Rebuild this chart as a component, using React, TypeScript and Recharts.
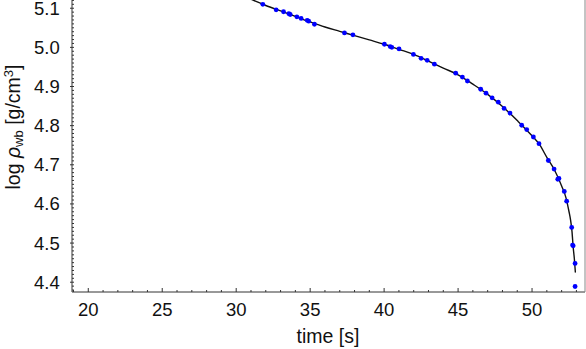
import React from "react";
import {
  ComposedChart,
  Line,
  Scatter,
  XAxis,
  YAxis,
} from "recharts";

// ── Data ────────────────────────────────────────────────────────────────────

// measured points: time [s] and log rho_wb
const pointTimes = [
  31.8, 32.7, 33.2, 33.56, 33.65, 34.1, 34.39, 34.8, 34.9, 35.29,
  37.32, 37.89, 40.02, 40.41, 40.52, 41.01, 41.98, 42.5, 42.91, 43.4,
  44.84, 45.29, 45.63, 46.53, 46.89, 47.3, 47.72, 48.11, 48.51, 49.3,
  49.64, 50.09, 50.47, 51.1, 51.49, 51.74, 51.82, 52.18, 52.34, 52.68,
  52.74, 52.78, 52.91, 52.91,
];
const pointValues = [
  5.11, 5.096, 5.091, 5.086, 5.084, 5.078, 5.074, 5.069, 5.067, 5.059,
  5.037, 5.032, 5.008, 5.002, 5.0, 4.996, 4.982, 4.972, 4.967, 4.957,
  4.934, 4.924, 4.914, 4.893, 4.883, 4.871, 4.86, 4.844, 4.832, 4.801,
  4.79, 4.771, 4.754, 4.711, 4.689, 4.663, 4.665, 4.632, 4.607, 4.54,
  4.495, 4.493, 4.448, 4.389,
];

// fitted curve
const curveTimes = [
  29.5, 31, 32, 33, 34, 35, 36, 37, 38, 39, 40, 41, 42, 43, 44, 45, 46,
  47, 48, 49, 50, 50.5, 51, 51.5, 52, 52.3, 52.5, 52.6, 52.7, 52.78,
  52.86, 52.93,
];
const curveValues = [
  5.148, 5.123, 5.107, 5.093, 5.079, 5.065, 5.052, 5.041, 5.03, 5.019,
  5.008, 4.995, 4.982, 4.965, 4.947, 4.93, 4.906, 4.88, 4.849, 4.813,
  4.774, 4.752, 4.719, 4.688, 4.646, 4.615, 4.58, 4.56, 4.53, 4.49,
  4.46, 4.425,
];

const xMajorTicks = [20, 25, 30, 35, 40, 45, 50];
const yMajorTicks = [4.4, 4.5, 4.6, 4.7, 4.8, 4.9, 5.0, 5.1];

const X_DOMAIN: [number, number] = [18.9, 53.58];
const Y_DOMAIN: [number, number] = [4.375, 5.121];

// minor ticks: every second / every 0.01
const xMinorTicks: number[] = [];
for (let t = 19; t <= 53; t++) xMinorTicks.push(t);
const yMinorTicks: number[] = [];
for (let i = 438; i <= 512; i++) yMinorTicks.push(i / 100);

const points = pointTimes.map((t, i) => ({ t, y: pointValues[i] }));
const curve = curveTimes.map((t, i) => ({ t, y: curveValues[i] }));

const FONT = "'Liberation Sans', Arial, sans-serif";
const AXIS_COLOR = "#333";
const POINT_COLOR = "#0000ff";

const isMajor = (v: number, list: number[]) =>
  list.some((m) => Math.abs(m - v) < 1e-6);

// ── Custom ticks ────────────────────────────────────────────────────────────

function XTick(props: any) {
  const { x, y, payload } = props;
  const major = isMajor(payload.value, xMajorTicks);
  return (
    <g>
      <line
        x1={x}
        x2={x}
        y1={y}
        y2={y - (major ? 4 : 2)}
        stroke={AXIS_COLOR}
        strokeWidth={1}
      />
      {major && (
        <text
          x={x}
          y={y + 24}
          textAnchor="middle"
          fontFamily={FONT}
          fontSize={18.5}
          fill="#111"
        >
          {payload.value}
        </text>
      )}
    </g>
  );
}

function YTick(props: any) {
  const { x, y, payload } = props;
  const major = isMajor(payload.value, yMajorTicks);
  return (
    <g>
      <line
        x1={major ? x - 2 : x}
        x2={x + 2}
        y1={y}
        y2={y}
        stroke={AXIS_COLOR}
        strokeWidth={1}
      />
      {major && (
        <text
          x={x - 38}
          y={y + 6.5}
          textAnchor="start"
          fontFamily={FONT}
          fontSize={18.5}
          fill="#111"
        >
          {payload.value.toFixed(1)}
        </text>
      )}
    </g>
  );
}

function YTitle() {
  return (
    <text
      transform="translate(20, 127) rotate(-90)"
      textAnchor="middle"
      fontFamily={FONT}
      fontSize={19.5}
      fill="#111"
    >
      <tspan>log </tspan>
      <tspan fontStyle="italic">ρ</tspan>
      <tspan fontSize={13} dy={3}>wb</tspan>
      <tspan dy={-3}> [g/cm</tspan>
      <tspan fontSize={13} dy={-7}>3</tspan>
      <tspan dy={7}>]</tspan>
    </text>
  );
}

function XTitle() {
  return (
    <text
      x={328}
      y={343}
      textAnchor="middle"
      fontFamily={FONT}
      fontSize={19.5}
      fill="#111"
    >
      time [s]
    </text>
  );
}

// ── Chart ───────────────────────────────────────────────────────────────────

export default function App() {
  return (
    <div style={{ position: "absolute", left: 0, top: 0, background: "#fff" }}>
      <ComposedChart
        width={586}
        height={349}
        margin={{ top: 0, right: 0, left: 0, bottom: 0 }}
      >
        <XAxis
          dataKey="t"
          type="number"
          domain={X_DOMAIN}
          allowDataOverflow
          ticks={xMinorTicks}
          interval={0}
          tick={<XTick />}
          tickLine={false}
          tickSize={0}
          tickMargin={0}
          height={57}
          axisLine={{ stroke: AXIS_COLOR }}
          label={{ content: () => <XTitle /> }}
        />
        <YAxis
          dataKey="y"
          type="number"
          domain={Y_DOMAIN}
          allowDataOverflow
          ticks={yMinorTicks}
          interval={0}
          tick={<YTick />}
          tickLine={false}
          tickSize={0}
          tickMargin={0}
          width={72}
          axisLine={{ stroke: AXIS_COLOR }}
          label={{ content: () => <YTitle /> }}
        />
        <YAxis
          yAxisId="frame"
          orientation="right"
          type="number"
          domain={Y_DOMAIN}
          tick={false}
          tickLine={false}
          width={1}
          axisLine={{ stroke: "#888" }}
        />
        <Line
          data={curve}
          dataKey="y"
          type="monotone"
          stroke="#111"
          strokeWidth={1.4}
          dot={false}
          activeDot={false}
          isAnimationActive={false}
        />
        <Scatter
          data={points}
          dataKey="y"
          isAnimationActive={false}
          shape={(p: any) => (
            <circle cx={p.cx} cy={p.cy} r={2.4} fill={POINT_COLOR} />
          )}
        />
      </ComposedChart>
    </div>
  );
}
